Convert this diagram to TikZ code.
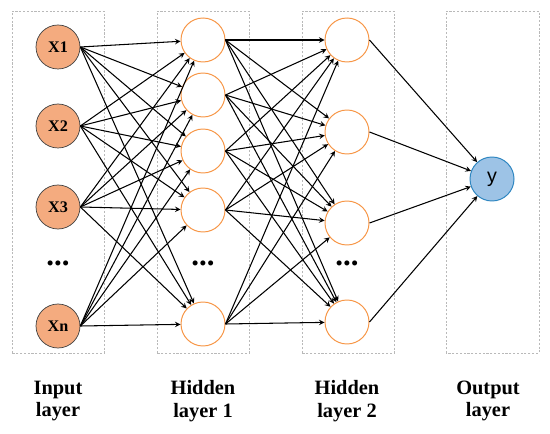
\documentclass[tikz,border=0pt]{standalone}
\usepackage{fontspec}
\setmainfont{Liberation Serif}
\newfontfamily\arialfont{Liberation Sans}
\definecolor{orfill}{HTML}{F4AB7F}
\definecolor{orline}{HTML}{F79646}
\definecolor{blfill}{HTML}{9DC3E6}
\definecolor{blline}{HTML}{2E86C1}
\tikzset{
  neurin/.style={circle, draw=black!75, fill=orfill, line width=0.5pt, minimum size=1.1cm, inner sep=0pt, font=\fontsize{11.5}{12}\selectfont\bfseries},
  neurhid/.style={circle, draw=orline, fill=white, line width=0.7pt, minimum size=1.1cm, inner sep=0pt},
  neurout/.style={circle, draw=blline, fill=blfill, line width=0.7pt, minimum size=1.1cm, inner sep=0pt, font=\arialfont\fontsize{14}{14}\selectfont},
  layerbox/.style={draw=gray!55, line width=0.5pt, dash pattern=on 1.5pt off 1.2pt},
  layertitle/.style={align=center, font=\fontsize{14.5}{16}\selectfont\bfseries},
  etc/.style={font=\fontsize{22}{22}\selectfont\bfseries},
  conn/.style={->, >=stealth, line width=0.75pt}
}
\begin{document}
\begin{tikzpicture}
    \useasboundingbox (0,0) rectangle (13.75,10.825);
    % Cadres des couches
    \draw[layerbox] (0.3,2.0) rectangle (2.6,10.55);
    \draw[layerbox] (3.925,2.0) rectangle (6.225,10.55);
    \draw[layerbox] (7.55,2.0) rectangle (9.85,10.55);
    \draw[layerbox] (11.15,2.0) rectangle (13.475,10.55);
    % Couche d'entrée
    \foreach \n/\y/\t in {1/9.65/X1, 2/7.675/X2, 3/5.65/X3, 4/2.675/Xn}
        \node[neurin] (in\n) at (1.45,\y) {\t};
    \node[etc] (dotsin) at (1.45,4.25) {...};
    % Couche cachée 1
    \foreach \n/\y in {1/9.825, 2/8.45, 3/7.05, 4/5.575, 5/2.725}
        \node[neurhid] (hA\n) at (5.075,\y) {};
    \node[etc] (dotsA) at (5.075,4.25) {...};
    % Couche cachée 2
    \foreach \n/\y in {1/9.825, 2/7.525, 3/5.25, 4/2.775}
        \node[neurhid] (hB\n) at (8.675,\y) {};
    \node[etc] (dotsB) at (8.675,4.25) {...};
    % Sortie
    \node[neurout] (out) at (12.3,6.35) {y};
    % Connexions
    \foreach \i in {1,...,4}
        \foreach \j in {1,...,5}
            \draw[conn] (in\i.east) -- (hA\j);
    \foreach \i in {1,...,5}
        \foreach \j in {1,...,4}
            \draw[conn] (hA\i.east) -- (hB\j);
    \foreach \i in {1,...,4}
        \draw[conn] (hB\i.east) -- (out);
    % Titres
    \node[layertitle] (tin) at (1.45,0.8) {Input\\layer};
    \node[layertitle] (tA) at (5.075,0.8) {Hidden\\layer 1};
    \node[layertitle] (tB) at (8.675,0.8) {Hidden\\layer 2};
    \node[layertitle] (tout) at (12.2,0.8) {Output\\layer};
\end{tikzpicture}
\end{document}
